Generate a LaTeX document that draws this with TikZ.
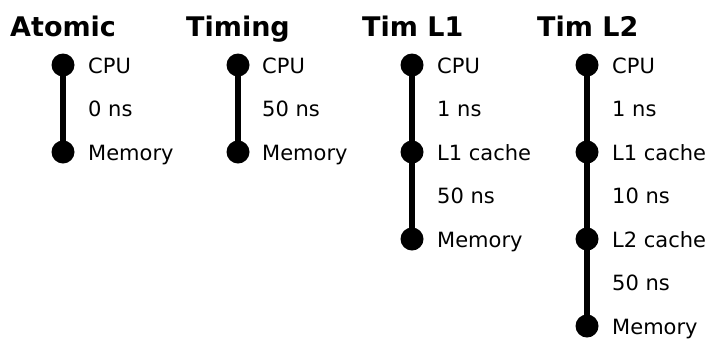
\documentclass[tikz,border=0pt]{standalone}
\usepackage{fontspec}
\setmainfont{DejaVu Sans}
\begin{document}
\begin{tikzpicture}[x=1pt,y=-1pt,
  dot/.style={circle,fill=black,inner sep=0pt,minimum size=23pt},
  lbl/.style={anchor=base west,inner sep=0pt,font=\fontsize{21}{24}\selectfont},
  ttl/.style={anchor=base west,inner sep=0pt,font=\fontsize{27}{30}\selectfont\bfseries},
  bar/.style={line width=5.5pt}]
\useasboundingbox (0,0) rectangle (708,338);
% Atomic
\node[ttl] (t1) at (10,36) {Atomic};
\node[dot] (a1) at (63,65) {};
\node[dot] (a2) at (63,152) {};
\draw[bar] (a1.center) -- (a2.center);
\node[lbl] (la1) at (88,73) {CPU};
\node[lbl] (la2) at (88,116.5) {0 ns};
\node[lbl] (la3) at (88,160) {Memory};
% Timing
\node[ttl] (t2) at (186,36) {Timing};
\node[dot] (b1) at (238,65) {};
\node[dot] (b2) at (238,152) {};
\draw[bar] (b1.center) -- (b2.center);
\node[lbl] (lb1) at (262,73) {CPU};
\node[lbl] (lb2) at (262,116.5) {50 ns};
\node[lbl] (lb3) at (262,160) {Memory};
% Tim L1
\node[ttl] (t3) at (362,36) {Tim L1};
\node[dot] (c1) at (412,65) {};
\node[dot] (c2) at (412,152) {};
\node[dot] (c3) at (412,239) {};
\draw[bar] (c1.center) -- (c3.center);
\node[lbl] (lc1) at (437,73) {CPU};
\node[lbl] (lc2) at (437,116.5) {1 ns};
\node[lbl] (lc3) at (437,160) {L1 cache};
\node[lbl] (lc4) at (437,203.5) {50 ns};
\node[lbl] (lc5) at (437,247) {Memory};
% Tim L2
\node[ttl] (t4) at (537,36) {Tim L2};
\node[dot] (d1) at (587,65) {};
\node[dot] (d2) at (587,152) {};
\node[dot] (d3) at (587,239) {};
\node[dot] (d4) at (587,326) {};
\draw[bar] (d1.center) -- (d4.center);
\node[lbl] (ld1) at (612,73) {CPU};
\node[lbl] (ld2) at (612,116.5) {1 ns};
\node[lbl] (ld3) at (612,160) {L1 cache};
\node[lbl] (ld4) at (612,203.5) {10 ns};
\node[lbl] (ld5) at (612,247) {L2 cache};
\node[lbl] (ld6) at (612,290.5) {50 ns};
\node[lbl] (ld7) at (612,334) {Memory};
\end{tikzpicture}
\end{document}
